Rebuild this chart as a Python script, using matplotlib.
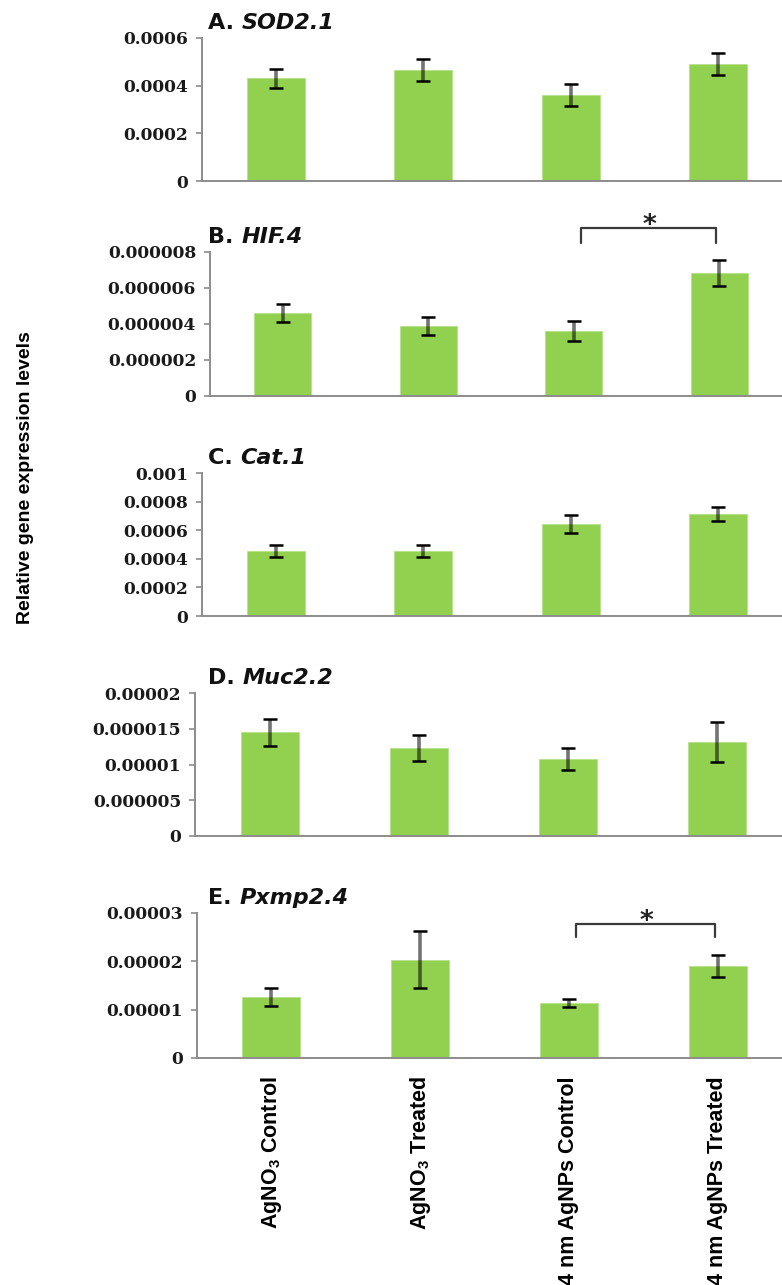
import matplotlib
matplotlib.use('Agg')
import matplotlib.pyplot as plt
from matplotlib.ticker import MultipleLocator, FuncFormatter

plt.rcParams['mathtext.fontset'] = 'custom'
plt.rcParams['mathtext.rm'] = 'Liberation Sans'
plt.rcParams['mathtext.bf'] = 'Liberation Sans:bold'

# group labels along the bottom
groups = ['AgNO$_\\mathbf{3}$ Control', 'AgNO$_\\mathbf{3}$ Treated',
          '4 nm AgNPs Control', '4 nm AgNPs Treated']

# relative expression (mean, error) per gene
sod2_mean = [0.000432, 0.000466, 0.000361, 0.000491]
sod2_err = [0.000040, 0.000045, 0.000045, 0.000045]
hif4_mean = [4.61e-6, 3.89e-6, 3.61e-6, 6.83e-6]
hif4_err = [0.50e-6, 0.50e-6, 0.55e-6, 0.72e-6]
cat1_mean = [0.000455, 0.000455, 0.000643, 0.000713]
cat1_err = [0.000042, 0.000042, 0.000063, 0.000050]
muc2_mean = [1.449e-5, 1.23e-5, 1.077e-5, 1.31e-5]
muc2_err = [1.9e-6, 1.8e-6, 1.55e-6, 2.8e-6]
pxmp_mean = [1.26e-5, 2.03e-5, 1.14e-5, 1.90e-5]
pxmp_err = [1.8e-6, 5.9e-6, 0.8e-6, 2.3e-6]

letters = ['A', 'B', 'C', 'D', 'E']
genes = ['SOD2.1', 'HIF.4', 'Cat.1', 'Muc2.2', 'Pxmp2.4']
means = [sod2_mean, hif4_mean, cat1_mean, muc2_mean, pxmp_mean]
errs = [sod2_err, hif4_err, cat1_err, muc2_err, pxmp_err]
ymax = [0.0006, 0.000008, 0.001, 0.00002, 0.00003]
ystep = [0.0002, 0.000002, 0.0002, 0.000005, 0.00001]

# significance brackets: panel index -> (bracket top, leg bottom, star baseline)
sig = {1: (9.33e-6, 8.5e-6, 9.03e-6), 4: (2.77e-5, 2.50e-5, 2.66e-5)}

W, H = 782, 1285
fig = plt.figure(figsize=(W / 100, H / 100), dpi=100)

# panel frames in pixels: left, top, bottom
frames = [(202, 38, 181), (210, 252, 396), (202, 473, 616),
          (195, 693, 836), (197, 913, 1058)]
right_px = 792

bar_color = '#92d050'
axis_gray = '#8c8c8c'


def fmt(v, pos):
    s = f'{v:.6f}'.rstrip('0').rstrip('.')
    return s if s else '0'


for i in range(5):
    l, t, b = frames[i]
    ax = fig.add_axes([l / W, 1 - b / H, (right_px - l) / W, (b - t) / H])
    x = list(range(4))
    ax.bar(x, means[i], width=0.39, color=bar_color, edgecolor='#b5e08c', linewidth=0.6, zorder=2)
    eb = ax.errorbar(x, means[i], yerr=errs[i], fmt='none', ecolor=(0, 0, 0, 0.55),
                     elinewidth=2.6, capsize=5, capthick=1.8, zorder=3)
    for cap in eb[1]:
        cap.set_markeredgecolor('black')

    ax.set_xlim(-0.5, 3.5)
    ax.set_ylim(0, ymax[i])
    ax.yaxis.set_major_locator(MultipleLocator(ystep[i]))
    ax.yaxis.set_major_formatter(FuncFormatter(fmt))
    for s in ['top', 'right']:
        ax.spines[s].set_visible(False)
    for s in ['left', 'bottom']:
        ax.spines[s].set_color(axis_gray)
        ax.spines[s].set_linewidth(1.4)
    ax.tick_params(axis='y', direction='out', length=4, width=1.2, color=axis_gray, pad=6)
    for lab in ax.get_yticklabels():
        lab.set_fontfamily('DejaVu Serif')
        lab.set_fontweight('bold')
        lab.set_fontsize(12.3)
        lab.set_color('#1a1a1a')
    ax.tick_params(axis='x', length=0)
    if i == 4:
        ax.set_xticks(x)
        ax.set_xticklabels(groups, rotation=90, fontfamily='Liberation Sans',
                           fontweight='bold', fontsize=15.5, va='top')
        ax.tick_params(axis='x', pad=13)
    else:
        ax.set_xticks([])

    # panel title: bold letter, then the gene name in bold italic
    t1 = fig.text(208 / W, 1 - (t - 9) / H, letters[i] + '. ', fontfamily='DejaVu Sans',
                  fontweight='bold', fontsize=16, va='baseline', ha='left', color='#111111')
    ax.annotate(genes[i], xy=(1, 0), xycoords=t1, va='bottom', ha='left',
                fontfamily='DejaVu Sans', fontweight='bold', style='italic',
                fontsize=16, color='#111111', annotation_clip=False)

    if i in sig:
        top, leg, star_y = sig[i]
        ax.plot([2.05, 2.05, 2.98, 2.98], [leg, top, top, leg], color='#3a3a3a', lw=1.6,
                solid_joinstyle='round', solid_capstyle='round', clip_on=False, zorder=4)
        ax.text(2.52, star_y, '*', ha='center', va='baseline', fontsize=19,
                fontweight='bold', color='#222222', clip_on=False)

fig.text(26 / W, 1 - 478 / H, 'Relative gene expression levels', rotation=90,
         ha='center', va='center', fontsize=14, fontweight='bold',
         fontfamily='Liberation Sans')

fig.savefig('out.png', dpi=100)
